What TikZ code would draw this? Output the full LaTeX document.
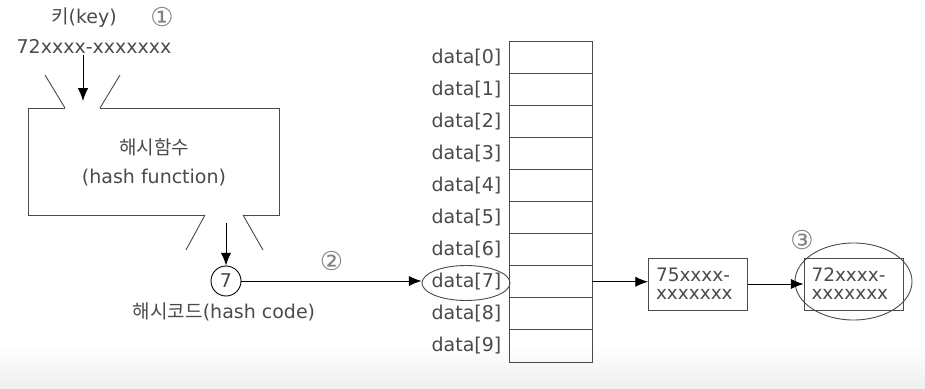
\documentclass[tikz,border=0pt]{standalone}
\usepackage{fontspec}
\setmainfont{DejaVu Sans}
\newfontfamily\kr{Noto Sans CJK KR}
\usetikzlibrary{arrows.meta,calc,positioning,shapes.geometric}
\definecolor{HLine}{HTML}{4A4A4A}
\definecolor{HText}{HTML}{4A4A4A}
\definecolor{HBand}{HTML}{EFEFEF}

\begin{document}
\begin{tikzpicture}[
      x=1pt,y=-1pt,
      font=\fontsize{19}{29}\selectfont,
      every node/.style={text=HText},
      line/.style={draw=HLine,line width=0.9pt},
      arrow/.style={-{Latex[length=4.5mm,width=3.6mm]},line width=0.9pt,draw=black},
      cell/.style={draw=HLine,line width=0.9pt,minimum width=83pt,minimum height=32.1pt,inner sep=0pt},
      entry/.style={draw=HLine,line width=0.9pt,minimum width=99pt,minimum height=52pt,
        align=left,inner sep=0pt,text width=84pt,font=\fontsize{18.5}{18}\selectfont},
      ring/.style={draw=HLine,line width=0.9pt,ellipse,inner sep=0pt},
      step num/.style={inner sep=0pt,text=gray,font=\fontsize{26}{26}\selectfont}
    ]
      \useasboundingbox (0,0) rectangle (925,388);
      \shade[top color=white,bottom color=HBand,draw=none] (0,345) rectangle (925,388);

      % key
      \node (key) at (84,18) {{\kr 키}(key)};
      \node[step num] (n1) at (162,17) {①};
      \node (keyval) at (94,46) {72xxxx-xxxxxxx};

      % hash function box with openings
      \draw[line] (65,108) -- (28,108) -- (28,215) -- (205,215);
      \draw[line] (100,108) -- (279,108) -- (279,215) -- (243,215);
      \draw[line] (45,75) -- (65,108);
      \draw[line] (120,75) -- (100,108);
      \draw[line] (205,215) -- (186,250);
      \draw[line] (243,215) -- (263,250);
      \node[align=center] (hashfn) at (154,162) {{\kr 해시함수}\\(hash function)};
      \coordinate (inTop) at (83,55);
      \coordinate (inBot) at (83,101);
      \draw[arrow] (inTop) -- (inBot);

      % hash code
      \node[circle,draw=black,line width=0.9pt,minimum size=30pt,inner sep=0pt] (code) at (226,281) {7};
      \coordinate (outTop) at (226,223);
      \draw[arrow] (outTop) -- (code);
      \node (codelbl) at (224,312) {{\kr 해시코드}(hash code)};

      % array
      \foreach \i in {0,...,9}{
        \node[cell] (cell\i) at (550.5,57.05+\i*32.1) {};
        \node[left=7pt of cell\i,inner sep=0pt] (lbl\i) {data[\i]};
      }
      \node[ring,minimum width=88pt,minimum height=35pt] (pick) at (466,283) {};
      \draw[arrow] (code) -- (code -| pick.west) node[midway,above=10pt,step num] (n2) {②};

      % chain
      \node[entry] (first) at (698,284) {75xxxx-\\xxxxxxx};
      \node[entry] (second) at (853.5,284) {72xxxx-\\xxxxxxx};
      \node[ring,minimum width=117pt,minimum height=77pt] (found) at (853.5,281.5) {};
      \node[step num] (n3) at (802,240) {③};
      \draw[arrow] (cell7.east) -- (cell7.east -| first.west);
      \draw[arrow] (first) -- (second);
    \end{tikzpicture}
\end{document}
